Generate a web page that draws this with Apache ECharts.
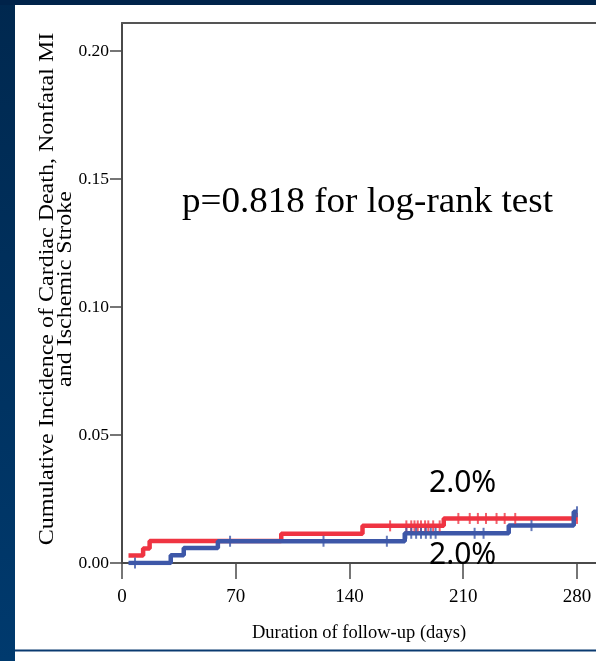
<!DOCTYPE html>
<html>
<head>
<meta charset="utf-8">
<script src="https://cdn.jsdelivr.net/npm/echarts@6/dist/echarts.min.js"></script>
<style>
  html, body { margin: 0; padding: 0; background: #ffffff; }
  #chart { width: 596px; height: 661px; }
</style>
</head>
<body>
<div id="chart"></div>
<script>
// Axis ticks
const xTicks = [0, 70, 140, 210, 280];
const yTicks = [0, 0.05, 0.10, 0.15, 0.20];

// Kaplan-Meier style cumulative incidence, [day, value] at each step
const redSteps = [[4, 0.0029], [13, 0.0057], [17, 0.0086], [98, 0.0114], [148, 0.0145], [198, 0.0174], [280, 0.0174]];
const blueSteps = [[4, 0.0], [30, 0.0030], [38, 0.0059], [59, 0.0085], [174, 0.0116], [238, 0.0146], [278, 0.0200], [280, 0.0200]];

// Censored observations, [day, value]
const redCensor = [
  [165, 0.0145], [175, 0.0145], [178, 0.0145], [180, 0.0145], [182, 0.0145], [184, 0.0145],
  [186.5, 0.0145], [188.5, 0.0145], [191.5, 0.0145], [195.5, 0.0145],
  [207, 0.0174], [214, 0.0174], [219, 0.0174], [224, 0.0174], [230.5, 0.0174], [235.5, 0.0174],
  [242, 0.0174], [280, 0.0174]
];
const blueCensor = [
  [8, 0.0], [66.5, 0.0085], [124, 0.0085], [163, 0.0085],
  [175, 0.0116], [178, 0.0116], [181, 0.0116], [184, 0.0116], [187, 0.0116], [190, 0.0116], [193, 0.0116],
  [217, 0.0116], [222.5, 0.0116], [252, 0.0146], [280, 0.0200]
];

const pText = 'p=0.818 for log-rank test';
const redFinal = '2.0%';
const blueFinal = '2.0%';
const yTitle1 = 'Cumulative Incidence of Cardiac Death, Nonfatal MI';
const yTitle2 = 'and Ischemic Stroke';
const xTitle = 'Duration of follow-up (days)';

const RED = '#ef3442';
const BLUE = '#3d57a8';
const AXIS = '#4a4a4a';
const SERIF = '"Liberation Serif", "Times New Roman", serif';
const X_MAX = 291.7;

const chart = echarts.init(document.getElementById('chart'), null, { renderer: 'canvas' });

chart.setOption({
  animation: false,
  backgroundColor: '#ffffff',
  grid: { left: 122, top: 23, right: 0, bottom: 98 },
  xAxis: [{
    type: 'value', min: 0, max: X_MAX, interval: 70,
    name: xTitle, nameLocation: 'middle', nameGap: 61,
    nameTextStyle: { fontFamily: SERIF, fontSize: 18.5, color: '#000' },
    splitLine: { show: false },
    axisLine: { show: true, lineStyle: { color: AXIS, width: 2 } },
    axisTick: { show: true, length: 16, customValues: xTicks, lineStyle: { color: AXIS, width: 1.5 } },
    axisLabel: { customValues: xTicks, margin: 25, fontFamily: SERIF, fontSize: 19, color: '#000' }
  }, {
    // top frame line of the plot box
    type: 'value', position: 'top', min: 0, max: X_MAX,
    splitLine: { show: false }, axisTick: { show: false }, axisLabel: { show: false },
    axisLine: { show: true, lineStyle: { color: '#555555', width: 2 } }
  }],
  yAxis: {
    type: 'value', min: 0, max: 0.2109, interval: 0.05,
    splitLine: { show: false },
    axisLine: { show: true, lineStyle: { color: AXIS, width: 2 } },
    axisTick: { show: true, length: 12, customValues: yTicks, lineStyle: { color: AXIS, width: 1.5 } },
    axisLabel: { customValues: yTicks, margin: 13, fontFamily: SERIF, fontSize: 17.5, color: '#000',
      formatter: v => v.toFixed(2) }
  },
  series: [
    { type: 'line', step: 'end', data: redSteps, symbol: 'none', lineStyle: { color: RED, width: 4.5 }, z: 2 },
    { type: 'line', step: 'end', data: blueSteps, symbol: 'none', lineStyle: { color: BLUE, width: 4.5 }, z: 3 },
    { type: 'scatter', data: redCensor, symbol: 'rect', symbolSize: [2, 11], itemStyle: { color: RED }, z: 4 },
    { type: 'scatter', data: blueCensor, symbol: 'rect', symbolSize: [2, 11], itemStyle: { color: BLUE }, z: 5 }
  ],
  graphic: [
    // slide frame
    { type: 'rect', shape: { x: 0, y: 0, width: 15, height: 661 },
      style: { fill: new echarts.graphic.LinearGradient(0, 0, 0, 1, [{ offset: 0, color: '#00284f' }, { offset: 1, color: '#003a6e' }]) } },
    { type: 'rect', shape: { x: 0, y: 0, width: 596, height: 5 }, style: { fill: '#00234a' } },
    { type: 'rect', shape: { x: 15, y: 649.5, width: 581, height: 2 }, style: { fill: '#0a3a70' } },
    // y-axis title, two rotated lines
    { type: 'text', x: 48, y: 289, rotation: Math.PI / 2, scaleX: 1.2,
      style: { text: yTitle1, font: '20px ' + SERIF, fill: '#000', align: 'center', verticalAlign: 'middle', textAlign: 'center', textVerticalAlign: 'middle' } },
    { type: 'text', x: 66, y: 289, rotation: Math.PI / 2, scaleX: 1.2,
      style: { text: yTitle2, font: '20px ' + SERIF, fill: '#000', align: 'center', verticalAlign: 'middle', textAlign: 'center', textVerticalAlign: 'middle' } },
    // annotations
    { type: 'text', x: 182, y: 203, scaleX: 1.03,
      style: { text: pText, font: '36px ' + SERIF, fill: '#000', align: 'left', verticalAlign: 'middle', textAlign: 'left', textVerticalAlign: 'middle' } },
    { type: 'text', x: 429, y: 483,
      style: { text: redFinal, font: '30px "Noto Sans", sans-serif', fill: '#000', align: 'left', verticalAlign: 'middle', textAlign: 'left', textVerticalAlign: 'middle' } },
    { type: 'text', x: 429, y: 555, z: 200,
      style: { text: blueFinal, font: '30px "Noto Sans", sans-serif', fill: '#000', align: 'left', verticalAlign: 'middle', textAlign: 'left', textVerticalAlign: 'middle' } }
  ]
});
</script>
</body>
</html>
